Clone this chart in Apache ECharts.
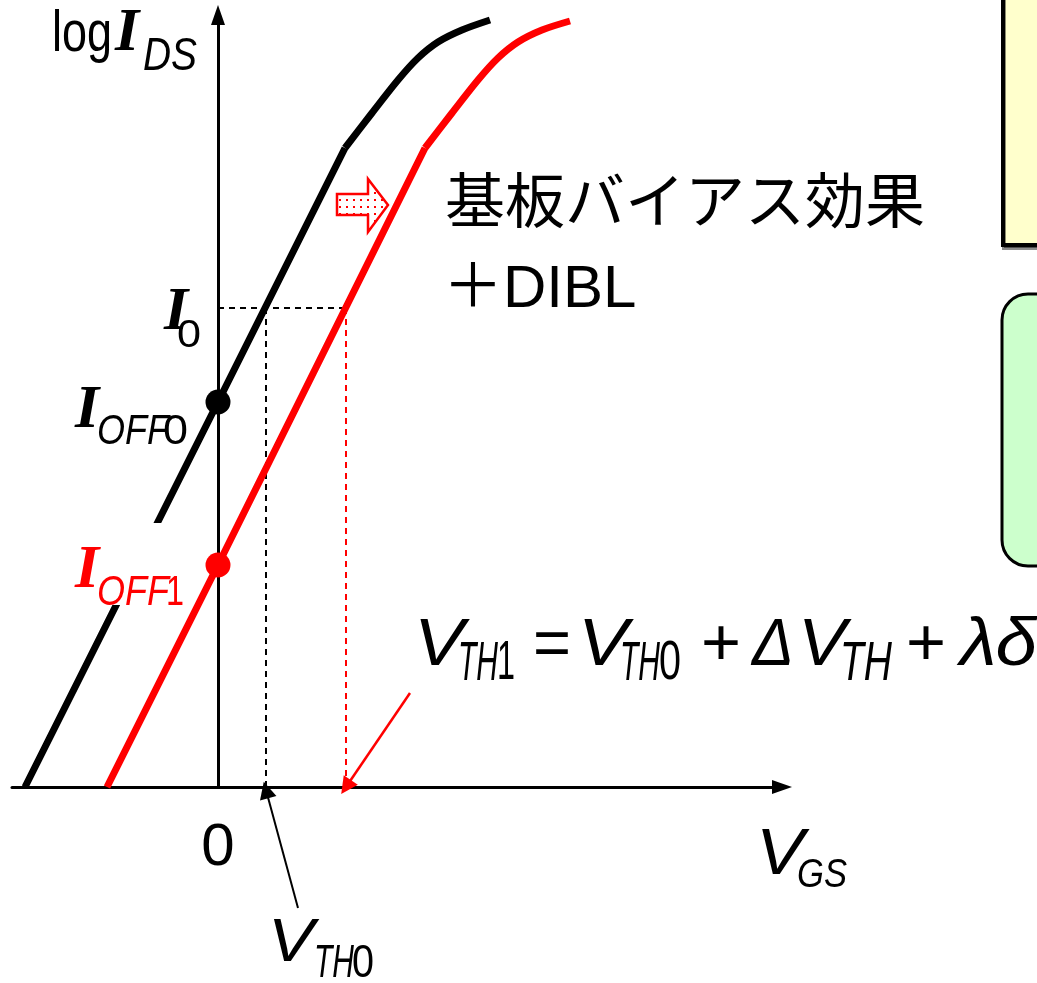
<!DOCTYPE html>
<html>
<head>
<meta charset="utf-8">
<script src="https://cdn.jsdelivr.net/npm/echarts@6/dist/echarts.min.js"></script>
<style>
  html, body { margin: 0; padding: 0; background: #fff; }
  #chart { width: 1037px; height: 983px; }
</style>
</head>
<body>
<div id="chart"></div>
<script>
// Gate voltage V_GS (arb. units) against log I_DS (arb. units)
// each characteristic: straight subthreshold part, then the bending top part
const slopeVth0 = [[-1.93, 0], [0, 3.85], [1.27, 6.39]];
const bendVth0 = [[1.27, 6.39], [1.54, 6.74], [1.80, 7.07], [2.00, 7.29], [2.20, 7.45], [2.44, 7.57], [2.72, 7.67]];
const slopeVth1 = [[-1.11, 0], [0, 2.22], [2.07, 6.39]];
const bendVth1 = [[2.07, 6.39], [2.34, 6.74], [2.60, 7.07], [2.80, 7.29], [3.00, 7.45], [3.24, 7.57], [3.52, 7.66]];
const IOFF0 = 3.85;
const IOFF1 = 2.22;
const I0 = 4.79;
const VTH0 = 0.48;
const VTH1 = 1.28;
const xTickValues = [0];
const shiftText = '基板バイアス効果';
const shiftText2 = '＋DIBL';

const SANS = '"Liberation Sans", "Noto Sans CJK JP", sans-serif';
const SERIF = '"Liberation Serif", serif';
const measure = document.createElement('canvas').getContext('2d');

// one run of text; optional target width squeezes it horizontally
function seg(text, x, cy, size, opt) {
  opt = opt || {};
  const fam = opt.serif ? SERIF : SANS;
  const fs = opt.upright ? 'normal' : 'italic';
  const fw = opt.bold ? 'bold' : 'normal';
  let sx = 1;
  if (opt.w) {
    measure.font = fs + ' ' + fw + ' ' + size + 'px ' + fam;
    sx = opt.w / measure.measureText(text).width;
  }
  return {
    type: 'text', x: x, y: cy, scaleX: sx, z: 20,
    style: {
      text: text, fill: opt.color || '#000',
      fontSize: size, fontFamily: fam, fontStyle: fs, fontWeight: fw,
      textAlign: 'left', textVerticalAlign: 'middle', align: 'left', verticalAlign: 'middle'
    }
  };
}

// dotted fill for the shift arrow
const dots = document.createElement('canvas');
dots.width = 7; dots.height = 7;
(function () {
  const c = dots.getContext('2d');
  c.fillStyle = '#fff'; c.fillRect(0, 0, 7, 7);
  c.fillStyle = '#f00'; c.fillRect(3, 3, 2, 2);
})();

const chart = echarts.init(document.getElementById('chart'), null, { renderer: 'canvas' });

const dashed = (from, to, color) => ({
  type: 'line', data: [from, to], symbol: 'none', z: 1, silent: true,
  lineStyle: { color: color, width: 2, type: [6, 5], opacity: 1 }
});

const curve = (data, color, smooth, z) => ({
  type: 'line', data: data, smooth: smooth, symbol: 'none', z: z, silent: true,
  lineStyle: { color: color, width: 7, cap: 'butt', join: 'round', opacity: 1 }
});

const labels = [
  // log I_DS
  seg('log', 52, 35, 58, { upright: true, w: 60 }),
  seg('I', 115, 34, 62, { serif: true, bold: true }),
  seg('DS', 143, 57, 46, { w: 54 }),
  // I_0
  seg('I', 164, 313, 62, { serif: true, bold: true }),
  seg('0', 177, 336, 39, { upright: true, w: 24 }),
  // I_OFF0
  seg('I', 75, 411, 62, { serif: true, bold: true }),
  seg('OFF', 97, 432, 42, { w: 72 }),
  seg('0', 163, 432, 42, { upright: true, w: 25 }),
  // I_OFF1 (red)
  seg('I', 75, 571, 62, { serif: true, bold: true, color: '#f00' }),
  seg('OFF', 97, 593, 42, { w: 72, color: '#f00' }),
  seg('1', 166, 593, 42, { upright: true, w: 18, color: '#f00' }),
  // V_GS
  seg('V', 756, 856, 64, { w: 48 }),
  seg('GS', 797, 876, 40, { w: 50 }),
  // V_TH0
  seg('V', 268, 944, 62, { w: 46 }),
  seg('TH', 314, 964, 46, { w: 40 }),
  seg('0', 352, 964, 46, { upright: true, w: 22 }),
  // V_TH1 = V_TH0 + ΔV_TH + λδ
  seg('V', 414, 647, 66, { w: 50 }),
  seg('TH', 458, 664, 56, { w: 40 }),
  seg('1', 497, 664, 56, { upright: true, w: 18 }),
  seg('=', 533, 647, 66, { upright: true, w: 38 }),
  seg('V', 578, 647, 66, { w: 50 }),
  seg('TH', 620, 664, 56, { w: 40 }),
  seg('0', 659, 664, 56, { upright: true, w: 22 }),
  seg('+', 701, 647, 66, { upright: true, w: 40 }),
  seg('Δ', 752, 647, 66, { w: 42 }),
  seg('V', 798, 647, 66, { w: 48 }),
  seg('TH', 840, 664, 56, { w: 52 }),
  seg('+', 906, 647, 66, { upright: true, w: 40 }),
  seg('λδ', 960, 647, 66, { w: 77 }),
  // shift caption
  seg(shiftText, 445, 206, 60, { upright: true }),
  seg(shiftText2, 443, 290, 60, { upright: true })
];

chart.setOption({
  animation: false,
  backgroundColor: '#fff',
  grid: { left: 12, right: 255, top: 15, bottom: 196, containLabel: false, outerBoundsMode: 'none' },
  xAxis: {
    type: 'value', min: -2.06, max: 5.64,
    axisLine: { show: true, onZero: true, symbol: ['none', 'triangle'], symbolSize: [14, 20], lineStyle: { color: '#000', width: 3 } },
    axisTick: { show: false },
    splitLine: { show: false },
    axisLabel: {
      customValues: xTickValues,
      formatter: v => (v === 0 ? '0' : ''),
      color: '#000', fontSize: 60, fontFamily: SANS, margin: 31
    }
  },
  yAxis: {
    type: 'value', min: 0, max: 7.72,
    axisLine: { show: true, onZero: true, symbol: ['none', 'triangle'], symbolSize: [14, 20], lineStyle: { color: '#000', width: 3 } },
    axisTick: { show: false },
    splitLine: { show: false },
    axisLabel: { show: false }
  },
  series: [
    dashed([0, I0], [VTH1, I0], '#000'),
    dashed([VTH0, I0], [VTH0, 0], '#000'),
    dashed([VTH1, I0], [VTH1, 0], '#f00'),
    curve(slopeVth0, '#000', false, 3),
    curve(bendVth0, '#000', 0.3, 3),
    curve(slopeVth1, '#f00', false, 4),
    curve(bendVth1, '#f00', 0.3, 4),
    {
      type: 'scatter', data: [[0, IOFF0]], symbolSize: 25, z: 5, silent: true,
      itemStyle: { color: '#000', opacity: 1 }
    },
    {
      type: 'scatter', data: [[0, IOFF1]], symbolSize: 25, z: 5, silent: true,
      itemStyle: { color: '#f00', opacity: 1 }
    },
    {
      type: 'lines', coordinateSystem: 'cartesian2d', clip: false, z: 6, silent: true,
      symbol: ['none', 'triangle'], symbolSize: 17,
      lineStyle: { opacity: 1, curveness: 0 },
      data: [
        { coords: [[1.92, 0.94], [VTH1, 0]], lineStyle: { color: '#f00', width: 2.5, opacity: 1 } },
        { coords: [[0.80, -1.21], [VTH0, -0.03]], lineStyle: { color: '#000', width: 2, opacity: 1 } }
      ]
    }
  ],
  graphic: [
    // panel boxes at the right edge
    {
      type: 'rect', z: 1,
      shape: { x: 1003, y: -10, width: 100, height: 255 },
      style: { fill: '#FFFFCC', stroke: '#000', lineWidth: 4, shadowColor: 'rgba(0,0,0,0.45)', shadowOffsetX: 1, shadowOffsetY: 3 }
    },
    {
      type: 'rect', z: 1,
      shape: { x: 1002, y: 294, width: 100, height: 272, r: 26 },
      style: { fill: '#CCFFCC', stroke: '#000', lineWidth: 3 }
    },
    // white backing behind the I_OFF1 label
    {
      type: 'rect', z: 10,
      shape: { x: 75, y: 523, width: 113, height: 82 },
      style: { fill: '#fff' }
    },
    // dotted shift arrow
    {
      type: 'polygon', z: 12,
      shape: { points: [[337, 194], [368, 194], [368, 179], [388, 205], [368, 232], [368, 215], [337, 215]] },
      style: { fill: { image: dots, repeat: 'repeat' }, stroke: '#f00', lineWidth: 2.5 }
    }
  ].concat(labels)
});
</script>
</body>
</html>
